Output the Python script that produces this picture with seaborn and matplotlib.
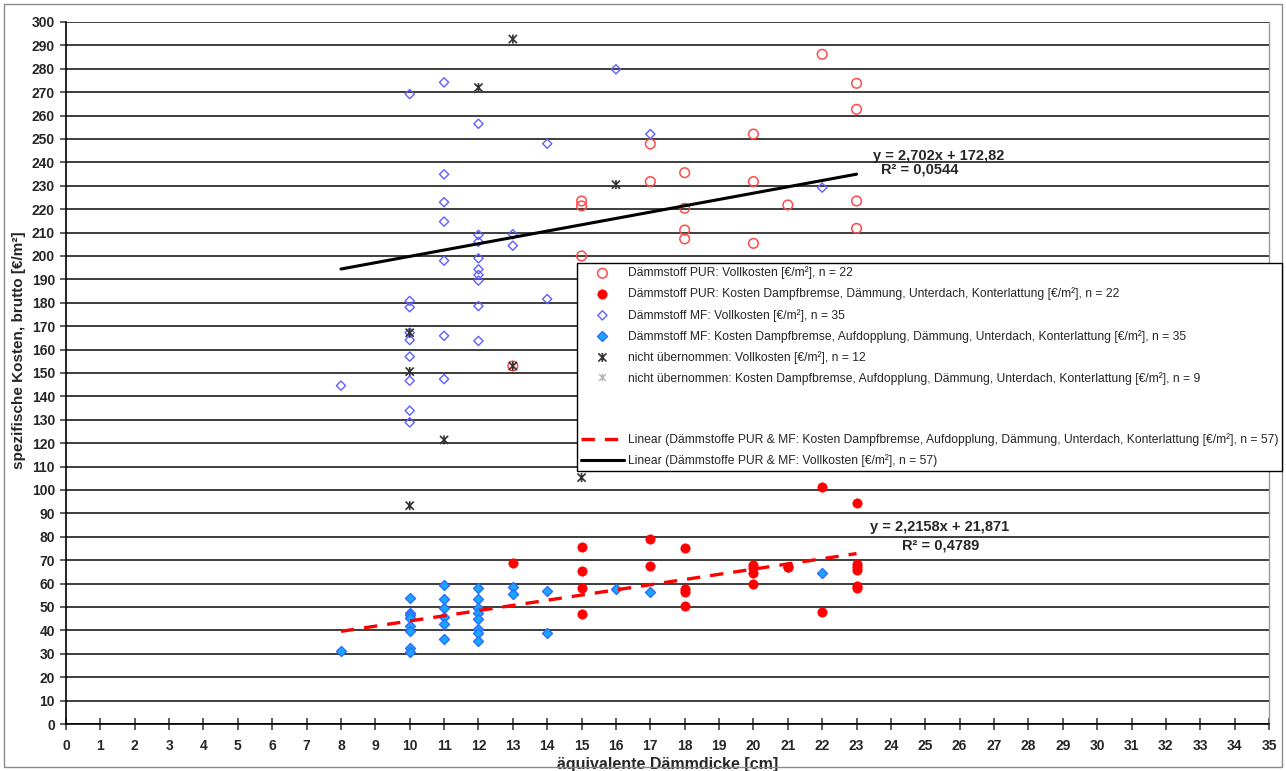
import numpy as np
import pandas as pd
import matplotlib
matplotlib.use("Agg")
import matplotlib.pyplot as plt
import seaborn as sns
from matplotlib.lines import Line2D
from matplotlib.patches import Rectangle
from matplotlib.path import Path

# ---------------- data ----------------
pur_voll_x = [13, 15, 15, 15, 17, 17, 18, 18, 18, 18, 20, 20, 20, 21, 22, 23, 23, 23, 23]
pur_voll_y = [153, 223.5, 221.4, 200, 247.9, 231.8, 235.6, 220.4, 211.1, 207.3,
              252.1, 231.8, 205.4, 221.8, 286.2, 273.8, 262.7, 223.5, 211.8]

pur_kost_x = [13, 15, 15, 15, 15, 17, 17, 18, 18, 18, 18, 20, 20, 20, 20, 21, 21, 22, 22,
              23, 23, 23, 23, 23, 23]
pur_kost_y = [68.9, 75.8, 65.2, 58, 47, 79.2, 67.4, 75.1, 57.8, 56.4, 50.3, 67.8, 66.8,
              64.7, 59.7, 67.2, 66.9, 101.4, 48, 94.3, 68.4, 67, 65.8, 59, 58]

mf_voll_x = [8, 10, 10, 10, 10, 10, 10, 10, 10, 10,
             11, 11, 11, 11, 11, 11, 11,
             12, 12, 12, 12, 12, 12, 12, 12, 12,
             13, 13, 14, 14, 16, 17, 22]
mf_voll_y = [144.6, 269.2, 180.8, 178.1, 167.2, 164.1, 157, 146.7, 133.9, 128.9,
             274.2, 234.9, 223, 214.7, 198, 165.9, 147.4,
             256.5, 209, 206.1, 199, 194.3, 191.9, 189.5, 178.6, 163.7,
             209.3, 204.4, 248, 181.6, 279.8, 252.1, 229.2]

mf_kost_x = [8, 10, 10, 10, 10, 10, 10, 10, 10,
             11, 11, 11, 11, 11, 11,
             12, 12, 12, 12, 12, 12, 12, 12,
             13, 13, 14, 14, 16, 17, 22]
mf_kost_y = [31.1, 53.7, 47.6, 46.6, 45.4, 41.9, 39.6, 32.6, 30.6,
             59.5, 53.3, 49.7, 45.9, 42.6, 36.5,
             58.3, 53.3, 49.4, 47.6, 45, 40.5, 38.8, 35.5,
             58.5, 55.6, 57, 38.8, 57.5, 56.3, 64.7]

nu_voll_x = [13, 12, 16, 10, 10, 13, 11, 10, 15]
nu_voll_y = [292.7, 272, 230.5, 167.2, 150.6, 153, 121.4, 93.3, 105.3]

trend_x = [8, 23]
voll_slope, voll_icpt = 2.702, 172.82
kost_slope, kost_icpt = 2.2158, 21.871

x_ticks = list(range(0, 36))
y_ticks = list(range(0, 301, 10))

labels = [
    "Dämmstoff PUR: Vollkosten [€/m²], n = 22",
    "Dämmstoff PUR: Kosten Dampfbremse, Dämmung, Unterdach, Konterlattung [€/m²], n = 22",
    "Dämmstoff MF: Vollkosten [€/m²], n = 35",
    "Dämmstoff MF: Kosten Dampfbremse, Aufdopplung, Dämmung, Unterdach, Konterlattung [€/m²], n = 35",
    "nicht übernommen: Vollkosten [€/m²], n = 12",
    "nicht übernommen: Kosten Dampfbremse, Aufdopplung, Dämmung, Unterdach, Konterlattung [€/m²], n = 9",
    "Linear (Dämmstoffe PUR & MF: Kosten Dampfbremse, Aufdopplung, Dämmung, Unterdach, Konterlattung [€/m²], n = 57)",
    "Linear (Dämmstoffe PUR & MF: Vollkosten [€/m²], n = 57)",
]

# ---------------- style ----------------
sns.set_theme(style="white")
plt.rcParams["font.family"] = ["Liberation Sans", "DejaVu Sans"]
narrow = ["Liberation Sans Narrow", "Liberation Sans", "DejaVu Sans"]

# Excel-like star marker: an X with a vertical bar
star = Path([(-1, -1), (1, 1), (-1, 1), (1, -1), (0, -1.1), (0, 1.1)],
            [Path.MOVETO, Path.LINETO, Path.MOVETO, Path.LINETO, Path.MOVETO, Path.LINETO])

W, H = 1286, 771
fig = plt.figure(figsize=(W / 100, H / 100), dpi=100)
fig.patch.set_facecolor("white")
fig.patches.append(Rectangle((4 / W, 4 / H), 1 - 8 / W, 1 - 8 / H, transform=fig.transFigure,
                             fill=False, edgecolor="#8a8a8a", linewidth=1.0))

L, R, T, B = 66, 1269, 22, 724
ax = fig.add_axes([L / W, 1 - B / H, (R - L) / W, (B - T) / H])

# ---------------- marks ----------------
sns.scatterplot(x=pur_voll_x, y=pur_voll_y, ax=ax, marker="o", s=48,
                facecolors="none", edgecolors="#ff4a4a", linewidth=1.1, label=labels[0], zorder=3)
sns.scatterplot(x=pur_kost_x, y=pur_kost_y, ax=ax, marker="o", s=45,
                facecolors="#ff0000", edgecolors="#ff0000", linewidth=0.5, label=labels[1], zorder=3)
sns.scatterplot(x=mf_voll_x, y=mf_voll_y, ax=ax, marker="D", s=22,
                facecolors="none", edgecolors="#5f5fff", linewidth=1.0, label=labels[2], zorder=3)
sns.scatterplot(x=mf_kost_x, y=mf_kost_y, ax=ax, marker="D", s=26,
                facecolors="#16a8ff", edgecolors="#2f6cff", linewidth=1.0, label=labels[3], zorder=3)
sns.scatterplot(x=nu_voll_x, y=nu_voll_y, ax=ax, marker=star, s=42,
                facecolors="none", edgecolors="#333333", linewidth=1.2, label=labels[4], zorder=4)

tx = np.array(trend_x, dtype=float)
sns.lineplot(x=tx, y=kost_slope * tx + kost_icpt, ax=ax, color="#ff0000", linewidth=2.4,
             linestyle=(0, (4, 3)), label=labels[6], zorder=5)
sns.lineplot(x=tx, y=voll_slope * tx + voll_icpt, ax=ax, color="black", linewidth=2.2,
             label=labels[7], zorder=5)

# ---------------- axes ----------------
ax.set_xlim(0, 35)
ax.set_ylim(0, 300)
ax.set_xticks(x_ticks)
ax.set_yticks(y_ticks)
ax.yaxis.grid(True, color="#2e2e2e", linewidth=1.3)
ax.xaxis.grid(False)
ax.set_axisbelow(True)
ax.spines["top"].set_visible(False)
ax.spines["right"].set_color("#9a9a9a")
ax.spines["right"].set_linewidth(1.0)
for s in ["left", "bottom"]:
    ax.spines[s].set_color("black")
    ax.spines[s].set_linewidth(1.2)
ax.tick_params(axis="x", direction="inout", length=9, width=1.1, color="#333333",
               labelsize=10, pad=6, bottom=True)
ax.tick_params(axis="y", direction="out", length=4, width=1.1, color="#333333",
               labelsize=10, pad=4, left=True)
for lab in ax.get_xticklabels() + ax.get_yticklabels():
    lab.set_fontweight("bold")

ax.set_xlabel("äquivalente Dämmdicke [cm]", family=narrow, fontweight="bold", fontsize=11.5,
              labelpad=3)
ax.set_ylabel("spezifische Kosten, brutto [€/m²]", family=narrow, fontweight="bold",
              fontsize=11, labelpad=2)
ax.yaxis.set_label_coords(-0.033, 0.533)

# trendline equations
eq_kw = dict(fontsize=10.5, fontweight="bold", va="center", ha="left", zorder=6)
ax.text(23.48, 242.7, "y = 2,702x + 172,82", **eq_kw)
ax.text(23.71, 236.8, "R² = 0,0544", **eq_kw)
ax.text(23.39, 84.2, "y = 2,2158x + 21,871", **eq_kw)
ax.text(24.32, 76.1, "R² = 0,4789", **eq_kw)

# ---------------- legend ----------------
h, l = ax.get_legend_handles_labels()
hmap = dict(zip(l, h))
nu_kost_handle = Line2D([], [], linestyle="none", marker=star, markersize=5.5,
                        markeredgecolor="#b5b5b5", markerfacecolor="none", markeredgewidth=1.0)
blank = Line2D([], [], linestyle="none", marker="")
handles = [hmap[labels[0]], hmap[labels[1]], hmap[labels[2]], hmap[labels[3]],
           hmap[labels[4]], nu_kost_handle, blank, blank, hmap[labels[6]], hmap[labels[7]]]
leg_labels = [labels[0], labels[1], labels[2], labels[3], labels[4], labels[5], " ", " ",
              labels[6], labels[7]]
if ax.get_legend() is not None:
    ax.get_legend().remove()
leg = fig.legend(handles, leg_labels, loc="upper left",
                 bbox_to_anchor=(577 / W, 1 - 263 / H), frameon=True, fancybox=False,
                 framealpha=1, edgecolor="black", prop={"family": narrow, "size": 8.7},
                 handlelength=3.6, handletextpad=0.3, labelspacing=0.68, borderpad=0.3,
                 borderaxespad=0)
leg.get_frame().set_linewidth(1.0)

fig.savefig("out.png", dpi=100)
